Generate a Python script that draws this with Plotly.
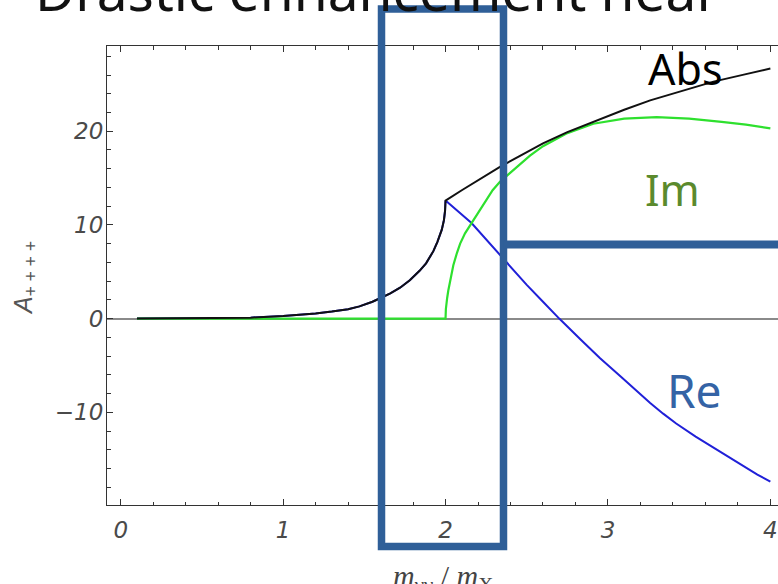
import plotly.graph_objects as go

# ---- data ----
X_ABS = [0.10, 0.50, 0.80, 1.00, 1.10, 1.20, 1.30, 1.40, 1.47, 1.55, 1.60, 1.66, 1.72, 1.78,
         1.84, 1.88, 1.925, 1.95, 1.977, 1.99, 1.997,
         2.00, 2.10, 2.20, 2.335, 2.45, 2.60, 2.75, 2.91, 3.10, 3.26, 3.45, 3.65, 3.85, 4.00]
ABS = [0.00, 0.03, 0.10, 0.28, 0.40, 0.55, 0.75, 1.00, 1.30, 1.80, 2.20, 2.70, 3.30, 4.10,
       5.10, 5.90, 7.20, 8.20, 9.50, 10.5, 11.5,
       12.6, 13.7, 14.8, 16.2, 17.3, 18.7, 19.9, 21.0, 22.3, 23.3, 24.3, 25.3, 26.1, 26.7]

X_RE = [0.10, 0.50, 0.80, 1.00, 1.10, 1.20, 1.30, 1.40, 1.47, 1.55, 1.60, 1.66, 1.72, 1.78,
        1.84, 1.88, 1.925, 1.95, 1.977, 1.99, 1.997,
        2.00, 2.16, 2.335, 2.50, 2.60, 2.70, 2.83, 2.95, 3.08, 3.17, 3.26, 3.34, 3.42, 3.54,
        3.67, 3.76, 3.85, 3.92, 4.00]
RE = [0.00, 0.03, 0.10, 0.28, 0.40, 0.55, 0.75, 1.00, 1.30, 1.80, 2.20, 2.70, 3.30, 4.10,
      5.10, 5.90, 7.20, 8.20, 9.50, 10.5, 11.5,
      12.6, 10.2, 6.8, 3.6, 1.8, 0.0, -2.2, -4.2, -6.2, -7.65, -9.0, -10.15, -11.2, -12.6,
      -14.0, -15.0, -15.9, -16.65, -17.4]

X_IM = [0.10, 1.00, 2.00, 2.002, 2.005, 2.01, 2.017, 2.03, 2.048, 2.07, 2.09, 2.12, 2.16, 2.21,
        2.29, 2.335, 2.40, 2.45, 2.52, 2.60, 2.75, 2.91, 3.10, 3.30, 3.50, 3.70, 3.85, 4.00]
IM = [0.0, 0.0, 0.0, 1.0, 1.6, 2.2, 3.0, 4.3, 5.7, 7.0, 8.0, 9.1, 10.2, 11.6,
      13.7, 14.6, 15.6, 16.4, 17.4, 18.4, 19.8, 20.8, 21.35, 21.5, 21.35, 21.0, 20.7, 20.3]

X_TICKS = [0, 1, 2, 3, 4]
Y_TICKS = [-10, 0, 10, 20]
X_RANGE = [-0.0844, 4.047]
Y_RANGE = [-19.9, 29.1]

TITLE = "Drastic enhancement near"
X_TITLE = "<i>m</i><sub>γγ</sub> / <i>m</i><sub>X</sub>"
Y_TITLE = "<i>A</i><sub>+ + + +</sub>"

BOX_BLUE = "#2f5f98"

fig = go.Figure()
fig.add_trace(go.Scatter(x=X_RE, y=RE, mode="lines", line=dict(color="#2020d8", width=2),
                         name="Re", showlegend=False))
fig.add_trace(go.Scatter(x=X_IM, y=IM, mode="lines", line=dict(color="#2ee02e", width=2.2),
                         name="Im", showlegend=False))
fig.add_trace(go.Scatter(x=X_ABS, y=ABS, mode="lines", line=dict(color="#111111", width=2),
                         name="Abs", showlegend=False))

tickfont = dict(family="DejaVu Sans", size=23, color="#4a4a4a", style="italic")

fig.update_layout(
    width=778, height=584,
    margin=dict(l=107, r=0, t=46, b=79, autoexpand=False),
    paper_bgcolor="white", plot_bgcolor="white",
    xaxis=dict(range=X_RANGE, tickvals=X_TICKS, ticks="inside", ticklen=6, tickwidth=1,
               tickcolor="#333", showline=True, linecolor="#333", linewidth=1,
               mirror="allticks", showgrid=False, zeroline=False, tickfont=tickfont,
               ticklabelstandoff=4,
               minor=dict(dtick=0.2, tick0=0, ticks="inside", ticklen=3.5, tickcolor="#333",
                          showgrid=False)),
    yaxis=dict(range=Y_RANGE, tickvals=Y_TICKS, ticks="inside", ticklen=6, tickwidth=1,
               tickcolor="#333", showline=True, linecolor="#333", linewidth=1,
               mirror=False, showgrid=False, zeroline=True, zerolinecolor="#8a8a8a",
               zerolinewidth=1.5, tickfont=tickfont, ticklabelstandoff=-2,
               minor=dict(dtick=2, tick0=0, ticks="inside", ticklen=3.5, tickcolor="#333",
                          showgrid=False)),
)

annotations = [
    dict(text=TITLE, x=-0.1103, y=1.037, xref="paper", yref="paper", xanchor="left",
         yanchor="bottom", showarrow=False,
         font=dict(family="Noto Sans", size=55, color="#111111")),
    dict(text=X_TITLE, x=0.5007, y=-0.16, xref="paper", yref="paper", xanchor="center",
         yanchor="middle", showarrow=False,
         font=dict(family="Liberation Serif", size=30, color="#444444")),
    dict(text=Y_TITLE, x=-0.1222, y=0.4946, xref="paper", yref="paper", xanchor="center",
         yanchor="middle", showarrow=False, textangle=-90,
         font=dict(family="Liberation Sans", size=25, color="#555555")),
    dict(text="Abs", x=0.862, y=0.950, xref="paper", yref="paper", showarrow=False,
         xanchor="center", yanchor="middle",
         font=dict(family="Noto Sans", size=43, color="#000000")),
    dict(text="Im", x=0.8435, y=0.688, xref="paper", yref="paper", showarrow=False,
         xanchor="center", yanchor="middle",
         font=dict(family="Noto Sans", size=43, color="#5b8a2d")),
    dict(text="Re", x=0.876, y=0.251, xref="paper", yref="paper", showarrow=False,
         xanchor="center", yanchor="middle",
         font=dict(family="Noto Sans", size=46, color="#3463a5")),
]
fig.update_layout(annotations=annotations)

shapes = [
    dict(type="rect", xref="paper", yref="paper", x0=0.4091, x1=0.5909, y0=-0.0904, y1=1.0806,
         line=dict(color=BOX_BLUE, width=7.5)),
    dict(type="line", xref="paper", yref="paper", x0=0.5909, x1=1.02, y0=0.5675, y1=0.5675,
         line=dict(color=BOX_BLUE, width=8)),
]
fig.update_layout(shapes=shapes)

fig.write_html("out.html")
